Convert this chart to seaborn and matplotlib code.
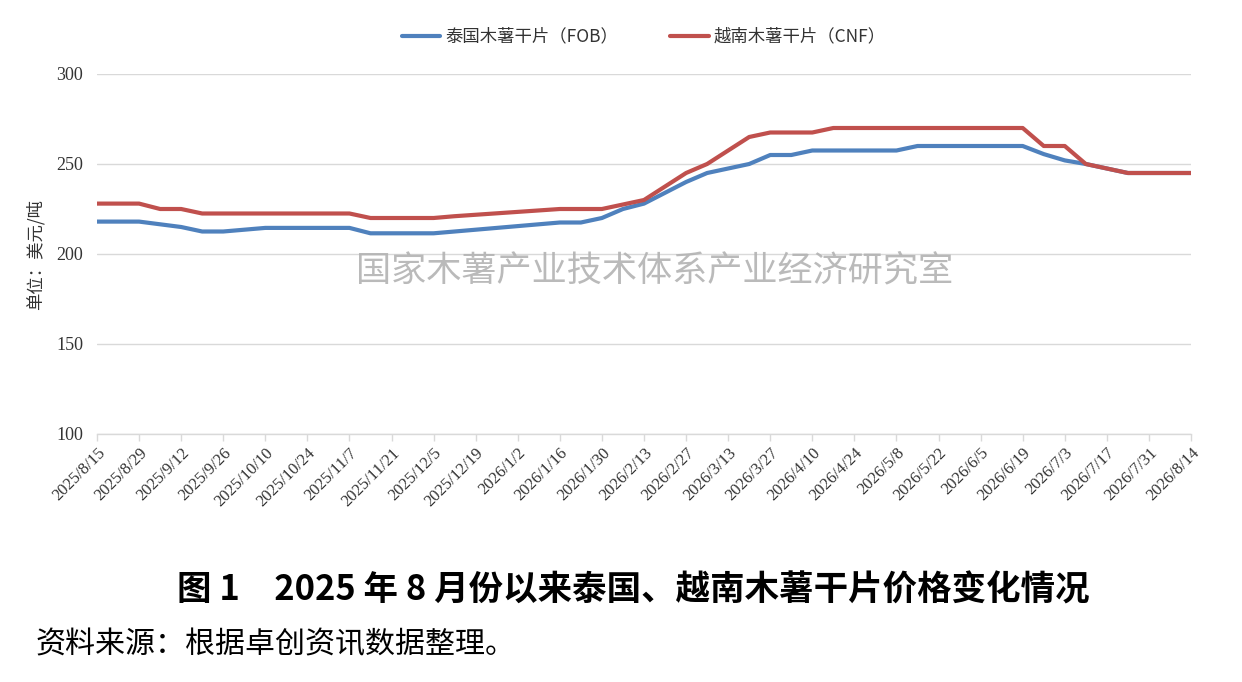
import matplotlib
matplotlib.use("Agg")
import matplotlib.pyplot as plt
import seaborn as sns
import pandas as pd
import numpy as np

# ---- data ----
start_date = "2025-08-15"
n_weeks = 53
thai_fob = [218, 218, 218, 216.5, 215, 212.5, 212.5, 213.5, 214.5, 214.5,
            214.5, 214.5, 214.5, 211.5, 211.5, 211.5, 211.5, 212.5, 213.5, 214.5,
            215.5, 216.5, 217.5, 217.5, 220, 225, 228, 234, 240, 245,
            247.5, 250, 255, 255, 257.5, 257.5, 257.5, 257.5, 257.5, 260,
            260, 260, 260, 260, 260, 255.5, 252, 250, 247.5, 245,
            245, 245, 245]
viet_cnf = [228, 228, 228, 225, 225, 222.5, 222.5, 222.5, 222.5, 222.5,
            222.5, 222.5, 222.5, 220, 220, 220, 220, 221, 221.8, 222.6,
            223.4, 224.2, 225, 225, 225, 227.5, 230, 237.5, 245, 250,
            257.5, 265, 267.5, 267.5, 267.5, 270, 270, 270, 270, 270,
            270, 270, 270, 270, 270, 260, 260, 250, 247.5, 245,
            245, 245, 245]
series_names = ["泰国木薯干片（FOB）", "越南木薯干片（CNF）"]
series_colors = ["#4F81BD", "#C0504D"]
y_ticks = [100, 150, 200, 250, 300]
x_tick_labels = ["2025/8/15", "2025/8/29", "2025/9/12", "2025/9/26", "2025/10/10",
                 "2025/10/24", "2025/11/7", "2025/11/21", "2025/12/5", "2025/12/19",
                 "2026/1/2", "2026/1/16", "2026/1/30", "2026/2/13", "2026/2/27",
                 "2026/3/13", "2026/3/27", "2026/4/10", "2026/4/24", "2026/5/8",
                 "2026/5/22", "2026/6/5", "2026/6/19", "2026/7/3", "2026/7/17",
                 "2026/7/31", "2026/8/14"]

dates = pd.date_range(start_date, periods=n_weeks, freq="7D")
df = pd.DataFrame({
    "date": np.concatenate([dates, dates]),
    "price": thai_fob + viet_cnf,
    "series": [series_names[0]] * n_weeks + [series_names[1]] * n_weeks,
})

sns.set_theme(style="white")
plt.rcParams["font.family"] = ["Liberation Serif", "Noto Sans CJK SC", "DejaVu Sans"]
serif = ["Liberation Serif", "DejaVu Serif"]
cjk = ["Noto Sans CJK SC", "DejaVu Sans"]

fig = plt.figure(figsize=(12.42, 6.82), dpi=100)
ax = fig.add_axes([97 / 1242, 248 / 682, 1094 / 1242, 360 / 682])

sns.lineplot(data=df, x="date", y="price", hue="series", hue_order=series_names,
             palette=series_colors, linewidth=3.0, ax=ax, legend=True)

ax.set_ylim(100, 300)
ax.set_yticks(y_ticks)
ax.set_yticklabels([str(v) for v in y_ticks], fontsize=13, color="#333333", family=serif)
ax.set_xlim(dates[0], dates[-1])
tick_dates = dates[::2]
ax.set_xticks(tick_dates)
ax.set_xticklabels(x_tick_labels, rotation=45, ha="right", rotation_mode="anchor",
                   fontsize=12, color="#333333", family=serif)
ax.grid(axis="y", color="#d9d9d9", linewidth=1.0)
ax.grid(axis="x", visible=False)
for s in ["top", "right", "left"]:
    ax.spines[s].set_visible(False)
ax.spines["bottom"].set_color("#d9d9d9")
ax.spines["bottom"].set_linewidth(1.0)
ax.tick_params(axis="x", which="major", length=5, color="#d9d9d9", width=1, pad=3, direction="out", bottom=True)
ax.tick_params(axis="y", length=0, pad=10)
ax.set_xlabel("")
ax.set_ylabel("单位：美元/吨", family=cjk, fontsize=12.5, color="#333333", labelpad=8)

leg = ax.legend(loc="lower center", bbox_to_anchor=(0.5, 1.035), ncol=2, frameon=False,
                prop={"family": cjk, "size": 12.5}, handlelength=2.2, columnspacing=3.0,
                handletextpad=0.3)
for line in leg.get_lines():
    line.set_linewidth(3.0)
for t in leg.get_texts():
    t.set_color("#333333")

# watermark
fig.text(655 / 1242, 1 - 270 / 682, "国家木薯产业技术体系产业经济研究室", family=cjk,
         fontsize=25.3, color="#b3b3b3", ha="center", va="center", alpha=0.9)

# title and source
fig.text(633 / 1242, 1 - 590 / 682, "图 1　2025 年 8 月份以来泰国、越南木薯干片价格变化情况",
         family=cjk, fontsize=24.8, fontweight="bold", color="black", ha="center", va="center")
fig.text(35 / 1242, 1 - 645 / 682, "资料来源：根据卓创资讯数据整理。", family=cjk,
         fontsize=21.6, color="black", ha="left", va="center")

fig.savefig("out.png", dpi=100)
